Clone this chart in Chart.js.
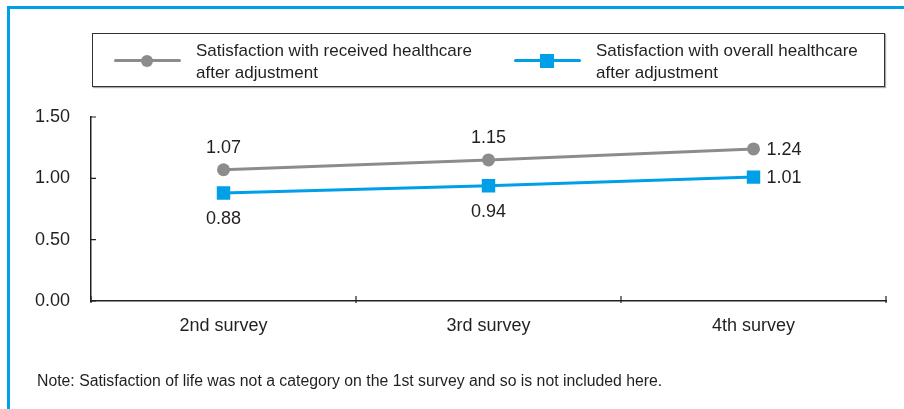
<!DOCTYPE html>
<html>
<head>
<meta charset="utf-8">
<script src="https://cdn.jsdelivr.net/npm/chart.js@4"></script>
<style>
  html, body { margin: 0; padding: 0; background: #fff; }
  body { width: 904px; height: 409px; position: relative; overflow: hidden;
         font-family: "Liberation Sans", Arial, sans-serif; color: #231f20; }
  #frame { position: absolute; left: 7px; top: 6px; right: -10px; bottom: -10px;
           border-left: 3px solid #00a0e9; border-top: 3px solid #00a0e9; }
  #chartWrap { position: absolute; left: 0; top: 0; width: 904px; height: 409px; }
  #legend { position: absolute; left: 92px; top: 33px; width: 791px; height: 52px;
            border: 1px solid #333; box-shadow: 1px 1px 1px #aaa; }
  .item { position: absolute; top: 0; height: 52px; }
  .sample { position: absolute; top: 25px; width: 67px; height: 3px; }
  .dot { position: absolute; }
  .txt { position: absolute; top: 6px; font-size: 17px; line-height: 22px; white-space: nowrap; }
  #note { position: absolute; left: 37px; top: 372px; font-size: 15.8px; white-space: nowrap; }
</style>
</head>
<body>
<div id="frame"></div>
<div id="chartWrap"><canvas id="chart" width="904" height="409"></canvas></div>
<div id="legend"></div>
<div id="note">Note: Satisfaction of life was not a category on the 1st survey and so is not included here.</div>
<script>
const surveys = ['2nd survey', '3rd survey', '4th survey'];
const receivedCare = [1.07, 1.15, 1.24];
const overallCare = [0.88, 0.94, 1.01];
const seriesNames = [
  ['Satisfaction with received healthcare', 'after adjustment'],
  ['Satisfaction with overall healthcare', 'after adjustment']
];
const yTicks = [0, 0.5, 1, 1.5];

const GRAY = '#8c8c8c';
const BLUE = '#00a0e9';
const INK = '#231f20';
const FONT = '"Liberation Sans", Arial, sans-serif';

// value labels: above/below for first points, right of the last one
const valueLabels = {
  id: 'valueLabels',
  afterDatasetsDraw(chart) {
    const ctx = chart.ctx;
    ctx.save();
    ctx.font = '18px ' + FONT;
    ctx.fillStyle = INK;
    chart.data.datasets.forEach((ds, di) => {
      const meta = chart.getDatasetMeta(di);
      meta.data.forEach((pt, i) => {
        const txt = ds.data[i].toFixed(2);
        if (i === ds.data.length - 1) {
          ctx.textAlign = 'left';
          ctx.textBaseline = 'middle';
          ctx.fillText(txt, pt.x + 13, pt.y + 1);
        } else {
          ctx.textAlign = 'center';
          ctx.textBaseline = 'middle';
          ctx.fillText(txt, pt.x, di === 0 ? pt.y - 22 : pt.y + 26);
        }
      });
    });
    ctx.restore();
  }
};

// small inward tick marks on both axes
const innerTicks = {
  id: 'innerTicks',
  afterDraw(chart) {
    const ctx = chart.ctx;
    const x = chart.scales.x, y = chart.scales.y;
    const area = chart.chartArea;
    ctx.save();
    ctx.strokeStyle = INK;
    ctx.lineWidth = 1.2;
    ctx.beginPath();
    y.ticks.forEach((t, i) => {
      const py = y.getPixelForTick(i);
      ctx.moveTo(area.left, py);
      ctx.lineTo(area.left + 5, py);
    });
    const n = x.ticks.length;
    const bounds = [area.left];
    for (let i = 0; i < n - 1; i++) {
      bounds.push((x.getPixelForTick(i) + x.getPixelForTick(i + 1)) / 2);
    }
    bounds.push(area.right);
    bounds.forEach(px => {
      ctx.moveTo(px, area.bottom - 5);
      ctx.lineTo(px, area.bottom + 2);
    });
    ctx.stroke();
    ctx.restore();
  }
};

new Chart(document.getElementById('chart'), {
  type: 'line',
  data: {
    labels: surveys,
    datasets: [
      {
        label: seriesNames[0].join(' '),
        data: receivedCare,
        borderColor: GRAY,
        backgroundColor: GRAY,
        borderWidth: 3,
        pointStyle: 'circle',
        pointRadius: 6.5,
        pointBorderWidth: 0
      },
      {
        label: seriesNames[1].join(' '),
        data: overallCare,
        borderColor: BLUE,
        backgroundColor: BLUE,
        borderWidth: 3,
        pointStyle: 'rect',
        pointRadius: 9.5,
        pointBorderWidth: 0
      }
    ]
  },
  options: {
    responsive: false,
    maintainAspectRatio: false,
    animation: false,
    layout: { padding: { top: 117, right: 18, left: 0, bottom: 0 } },
    plugins: {
      legend: { display: false },
      tooltip: { enabled: false }
    },
    scales: {
      x: {
        offset: true,
        grid: { display: false },
        border: { color: INK, width: 1.5 },
        ticks: { color: INK, font: { family: FONT, size: 18 }, padding: 6 },
        afterFit(s) { s.height = 108; }
      },
      y: {
        min: 0,
        max: 1.5,
        afterBuildTicks(s) { s.ticks = yTicks.map(v => ({ value: v })); },
        grid: { display: false },
        border: { color: INK, width: 1.5 },
        ticks: {
          color: INK,
          font: { family: FONT, size: 18 },
          padding: 13,
          callback: v => Number(v).toFixed(2)
        },
        afterFit(s) { s.width = 91; }
      }
    }
  },
  plugins: [valueLabels, innerTicks]
});

// html legend
const legend = document.getElementById('legend');
const legendStyle = [
  { color: GRAY, left: 21, round: true },
  { color: BLUE, left: 421, round: false }
];
seriesNames.forEach((lines, i) => {
  const st = legendStyle[i];
  const item = document.createElement('div');
  item.className = 'item';
  item.style.left = st.left + 'px';
  const line = document.createElement('div');
  line.className = 'sample';
  line.style.background = st.color;
  line.style.borderRadius = '2px';
  item.appendChild(line);
  const dot = document.createElement('div');
  dot.className = 'dot';
  const size = st.round ? 12 : 14;
  dot.style.width = size + 'px';
  dot.style.height = size + 'px';
  dot.style.left = (33 - size / 2) + 'px';
  dot.style.top = (26.5 - size / 2) + 'px';
  dot.style.background = st.color;
  if (st.round) dot.style.borderRadius = '50%';
  item.appendChild(dot);
  const txt = document.createElement('div');
  txt.className = 'txt';
  txt.style.left = '82px';
  txt.innerHTML = lines.join('<br>');
  item.appendChild(txt);
  legend.appendChild(item);
});
</script>
</body>
</html>
